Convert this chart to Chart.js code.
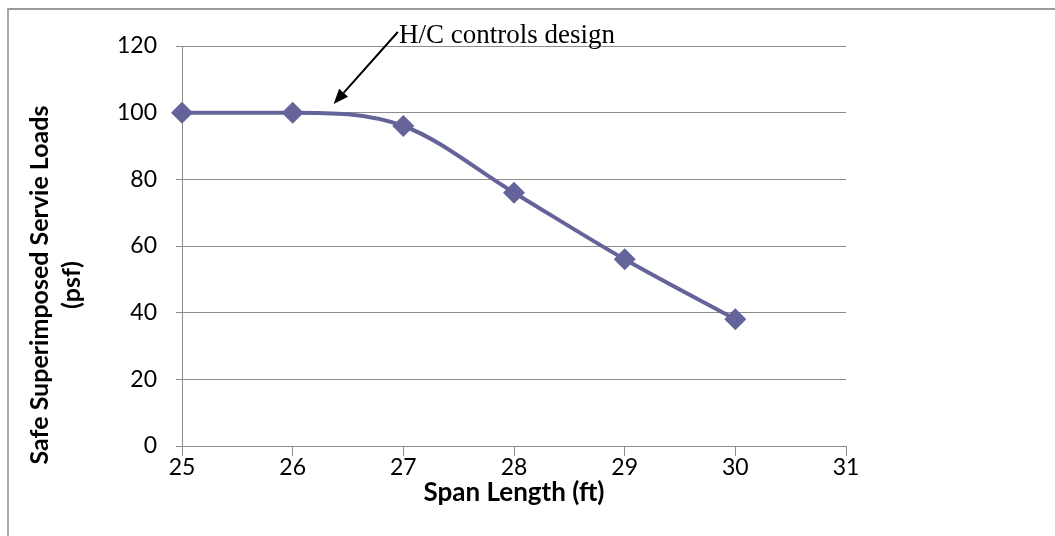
<!DOCTYPE html>
<html>
<head>
<meta charset="utf-8">
<script src="https://cdn.jsdelivr.net/npm/chart.js@4/dist/chart.umd.min.js"></script>
<style>
  html, body { margin: 0; padding: 0; background: #fff; }
  #wrap { position: relative; width: 1055px; height: 536px; overflow: hidden; }
  #frame { position: absolute; left: 7px; top: 8px; width: 1100px; height: 600px;
           border-top: 2px solid #9a9a9a; border-left: 2px solid #a8a8a8; }
  canvas { position: absolute; left: 0; top: 0; }
</style>
</head>
<body>
<div id="wrap">
  <div id="frame"></div>
  <canvas id="chart" width="1055" height="536"></canvas>
</div>
<script>
// span length (ft) vs safe superimposed service load (psf)
const spans = [25, 26, 27, 28, 29, 30];
const loads = [100, 100, 96, 76, 56, 38];
const xTicks = [25, 26, 27, 28, 29, 30, 31];
const yTicks = [0, 20, 40, 60, 80, 100, 120];

const lineColor = '#64649a';
const gridColor = '#8c8c8c';

// note: arrow + label, anchored in data units
const noteText = 'H/C controls design';
const noteAt = { x: 26.96, y: 120.9 };
const arrowFrom = { x: 26.95, y: 124.2 };
const arrowTo = { x: 26.37, y: 102.6 };

const yTitle = ['Safe Superimposed Servie Loads', '(psf)'];

const extras = {
  id: 'extras',
  afterDraw(chart) {
    const ctx = chart.ctx;
    const xs = chart.scales.x, ys = chart.scales.y;
    ctx.save();

    // arrow
    const x1 = xs.getPixelForValue(arrowFrom.x), y1 = ys.getPixelForValue(arrowFrom.y);
    const x2 = xs.getPixelForValue(arrowTo.x), y2 = ys.getPixelForValue(arrowTo.y);
    const ang = Math.atan2(y2 - y1, x2 - x1);
    const head = 15, hw = 6;
    const bx = x2 - Math.cos(ang) * head, by = y2 - Math.sin(ang) * head;
    ctx.strokeStyle = '#000';
    ctx.lineWidth = 2;
    ctx.beginPath();
    ctx.moveTo(x1, y1);
    ctx.lineTo(bx, by);
    ctx.stroke();
    ctx.fillStyle = '#000';
    ctx.beginPath();
    ctx.moveTo(x2, y2);
    ctx.lineTo(bx + Math.sin(ang) * hw, by - Math.cos(ang) * hw);
    ctx.lineTo(bx - Math.sin(ang) * hw, by + Math.cos(ang) * hw);
    ctx.closePath();
    ctx.fill();

    // note text
    ctx.font = '27px "Liberation Serif", "Times New Roman", serif';
    ctx.textAlign = 'left';
    ctx.textBaseline = 'alphabetic';
    ctx.fillText(noteText, xs.getPixelForValue(noteAt.x), ys.getPixelForValue(noteAt.y));

    // y axis title (Excel puts it a bit low)
    ctx.translate(0, 285);
    ctx.rotate(-Math.PI / 2);
    ctx.font = 'bold 25px Lato, sans-serif';
    ctx.textAlign = 'center';
    ctx.textBaseline = 'middle';
    ctx.fillText(yTitle[0], 0, 40);
    ctx.fillText(yTitle[1], 0, 72);
    ctx.restore();
  }
};

new Chart(document.getElementById('chart'), {
  type: 'line',
  data: {
    datasets: [{
      data: spans.map((s, i) => ({ x: s, y: loads[i] })),
      borderColor: lineColor,
      backgroundColor: lineColor,
      borderWidth: 4,
      cubicInterpolationMode: 'monotone',
      pointStyle: 'rectRot',
      pointRadius: 11,
      pointHoverRadius: 11,
      pointBorderWidth: 0,
      clip: false
    }]
  },
  options: {
    responsive: false,
    animation: false,
    events: [],
    layout: { padding: { left: 0, right: 209, top: 46, bottom: 0 } },
    plugins: { legend: { display: false }, tooltip: { enabled: false } },
    scales: {
      x: {
        type: 'linear',
        min: 25, max: 31,
        afterBuildTicks: s => { s.ticks = xTicks.map(v => ({ value: v })); },
        afterFit: s => { s.height = 90; },
        grid: { drawOnChartArea: false, drawTicks: true, tickLength: 10, color: gridColor },
        border: { display: true, color: gridColor },
        ticks: { color: '#000', font: { family: 'Lato', size: 23, lineHeight: 1 }, padding: 0, maxRotation: 0 },
        title: {
          display: true, text: 'Span Length (ft)', color: '#000',
          font: { family: 'Lato', size: 26, weight: 'bold' },
          padding: { top: 0, bottom: 28 }
        }
      },
      y: {
        min: 0, max: 120,
        afterBuildTicks: s => { s.ticks = yTicks.map(v => ({ value: v })); },
        afterFit: s => { s.width = 182; },
        grid: { drawTicks: true, tickLength: 6, color: gridColor },
        border: { display: true, color: gridColor },
        ticks: { color: '#000', font: { family: 'Lato', size: 23 }, padding: 19 }
      }
    }
  },
  plugins: [extras]
});
</script>
</body>
</html>
